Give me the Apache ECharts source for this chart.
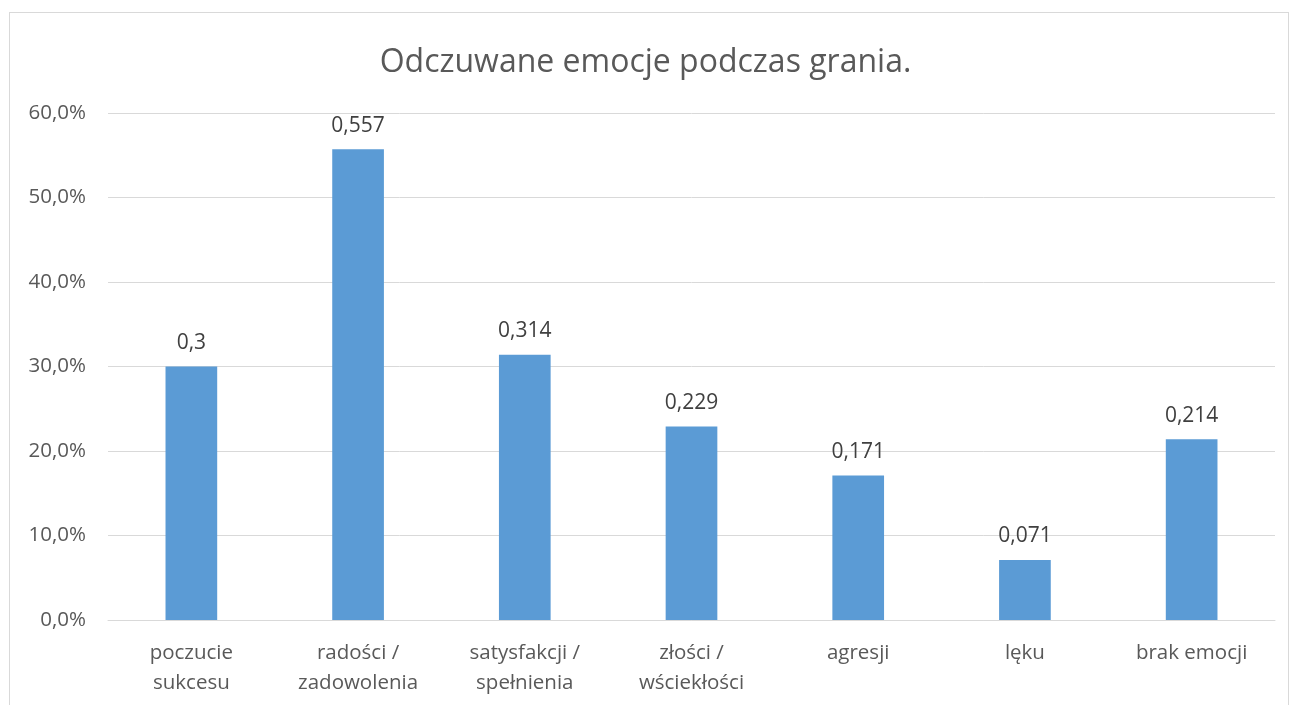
<!DOCTYPE html>
<html>
<head>
<meta charset="utf-8">
<script src="https://cdn.jsdelivr.net/npm/echarts@6/dist/echarts.min.js"></script>
<style>
html,body{margin:0;padding:0;background:#fff;}
#frame{position:absolute;left:9px;top:12px;width:1280px;height:720px;border:1px solid #d9d9d9;box-sizing:border-box;}
#chart{position:absolute;left:0;top:0;width:1291px;height:705px;}
</style>
</head>
<body>
<div id="frame"></div>
<div id="chart"></div>
<script>
const titleText = 'Odczuwane emocje podczas grania.';
const categories = ['poczucie\nsukcesu', 'radości /\nzadowolenia', 'satysfakcji /\nspełnienia', 'złości /\nwściekłości', 'agresji', 'lęku', 'brak emocji'];
const values = [0.3, 0.557, 0.314, 0.229, 0.171, 0.071, 0.214];
const yTicks = [0, 0.1, 0.2, 0.3, 0.4, 0.5, 0.6];

const font = '"Open Sans", sans-serif';
const chart = echarts.init(document.getElementById('chart'), null, {renderer: 'canvas'});
chart.setOption({
  animation: false,
  backgroundColor: 'transparent',
  title: {
    text: titleText,
    left: 'center',
    top: 42,
    textStyle: {fontFamily: font, fontSize: 32, fontWeight: 'normal', color: '#595959'}
  },
  grid: {left: 108, right: 16, top: 113, bottom: 85, containLabel: false},
  xAxis: {
    type: 'category',
    data: categories,
    axisLine: {lineStyle: {color: '#d9d9d9', width: 1}},
    axisTick: {show: false},
    axisLabel: {fontFamily: font, fontSize: 20.5, color: '#595959', margin: 18, lineHeight: 30, interval: 0}
  },
  yAxis: {
    type: 'value',
    min: yTicks[0],
    max: yTicks[yTicks.length - 1],
    interval: 0.1,
    axisLine: {show: false},
    axisTick: {show: false},
    splitLine: {lineStyle: {color: '#d9d9d9', width: 1}},
    axisLabel: {
      fontFamily: font, fontSize: 20.5, color: '#595959', margin: 22,
      formatter: v => (v * 100).toFixed(1).replace('.', ',') + '%'
    }
  },
  series: [{
    type: 'bar',
    data: values,
    barWidth: '31%',
    itemStyle: {color: '#5b9bd5'},
    label: {
      show: true,
      position: 'top',
      distance: 13,
      fontFamily: font,
      fontSize: 21,
      color: '#404040',
      formatter: p => String(p.value).replace('.', ',')
    }
  }]
});
</script>
</body>
</html>
